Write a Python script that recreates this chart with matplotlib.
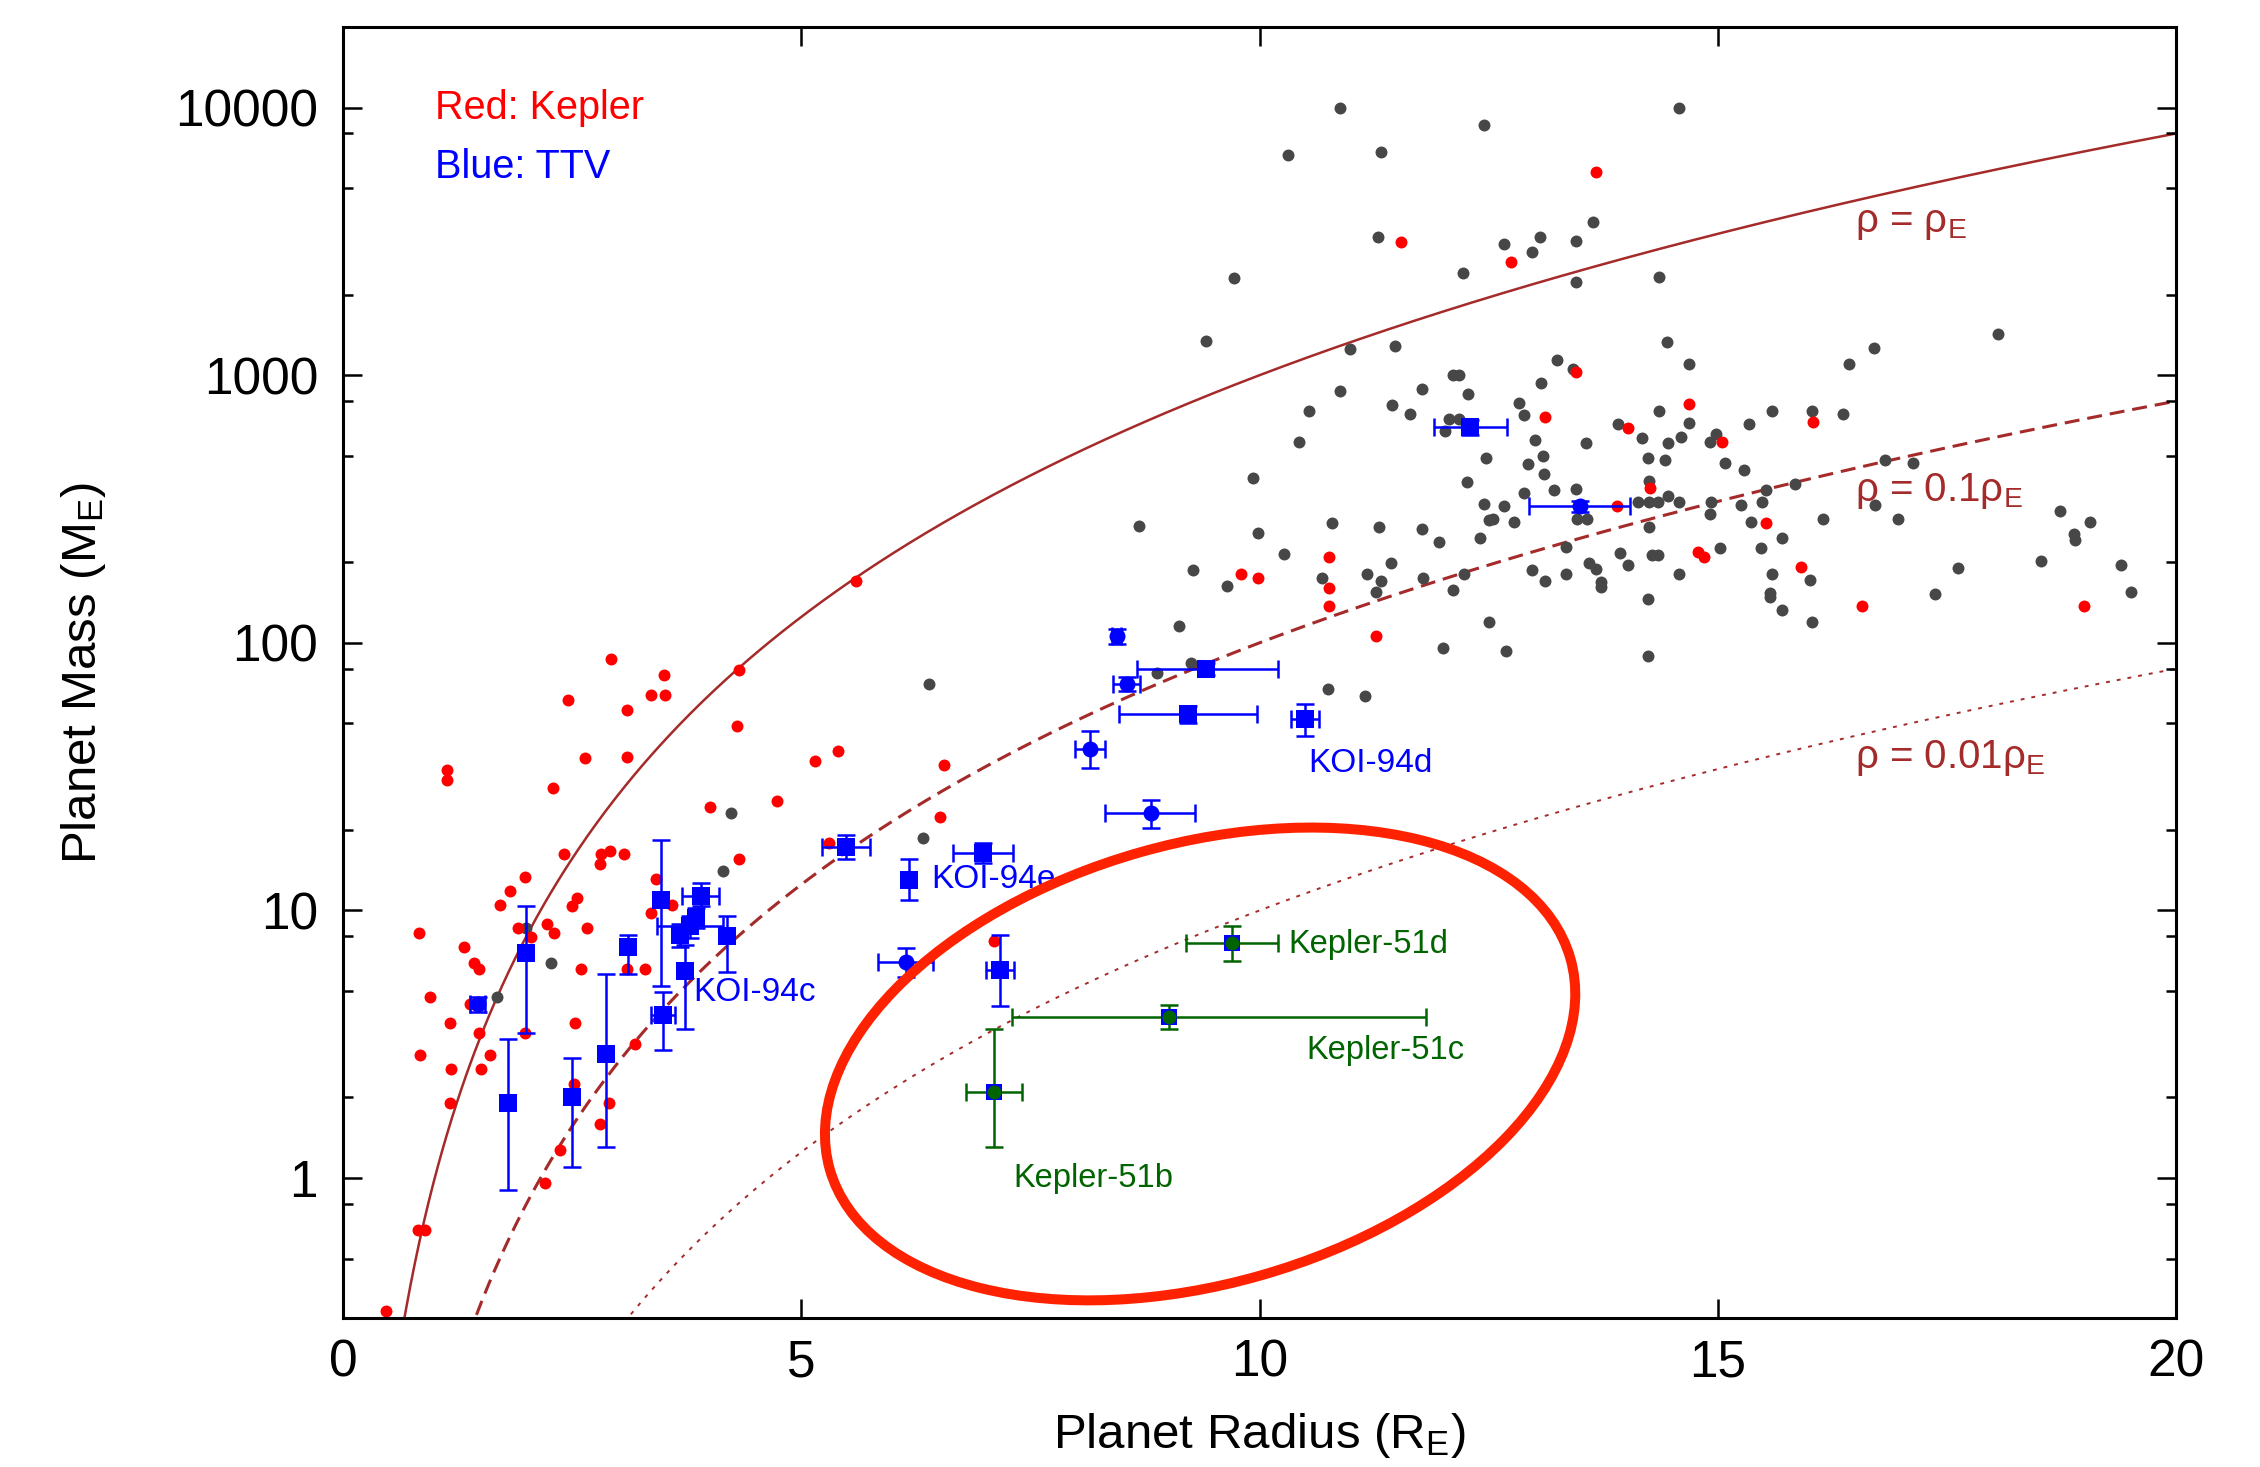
import numpy as np
import matplotlib
matplotlib.use("Agg")
import matplotlib.pyplot as plt
from matplotlib.patches import Ellipse
from matplotlib.transforms import Affine2D
from matplotlib.ticker import FixedLocator, NullFormatter

plt.rcParams['font.family'] = ['Liberation Sans', 'DejaVu Sans']
plt.rcParams['mathtext.fontset'] = 'custom'
plt.rcParams['mathtext.rm'] = 'Liberation Sans'
plt.rcParams['mathtext.it'] = 'Liberation Sans:italic'

# Kepler planets (red)
kepler_r = [2.92, 3.50, 3.36, 3.51, 4.32, 2.45, 3.10, 4.30, 2.64, 3.10, 1.13, 1.13, 2.29,
            5.15, 5.40, 6.56, 4.73, 4.00, 6.51, 2.41, 2.81, 2.91, 2.80, 3.07, 4.32, 1.99,
            1.82, 1.71, 2.55, 2.50, 3.41, 3.59, 3.36, 0.83, 1.91, 2.05, 2.22, 2.30, 2.66,
            1.32, 1.43, 1.48, 2.60, 3.10, 3.29, 0.95, 1.39, 1.17, 2.53, 1.48, 1.99, 3.19,
            0.84, 1.60, 1.18, 1.50, 7.10, 5.30, 1.17, 2.52, 2.90, 2.80, 2.37, 2.20, 0.82,
            0.89, 0.47, 5.60, 9.80, 9.98, 10.76, 10.76, 10.76, 11.27, 11.54, 12.74, 13.67,
            13.45, 13.11, 14.69, 14.02, 15.05, 16.04, 14.26, 13.90, 15.52, 14.78, 14.85,
            15.91, 16.57, 19.00]
kepler_m = [87, 76, 64, 64, 79, 61, 56, 49, 37, 37.5, 33.6, 30.8, 28.7,
            36.3, 39.4, 34.9, 25.7, 24.4, 22.3, 16.2, 16.3, 16.6, 14.9, 16.2, 15.6, 13.3,
            11.8, 10.5, 11.1, 10.4, 13.1, 10.5, 9.8, 8.26, 8.6, 7.96, 8.9, 8.26, 8.6,
            7.3, 6.38, 6.03, 6.03, 6.05, 6.05, 4.76, 4.46, 3.81, 3.81, 3.49, 3.49, 3.18,
            2.87, 2.87, 2.55, 2.55, 7.67, 17.9, 1.91, 2.24, 1.91, 1.59, 1.27, 0.955, 0.638,
            0.638, 0.318, 170, 181, 174, 209, 160, 137, 106, 3140, 2650, 5720,
            1028, 698, 777, 635, 563, 668, 380, 324, 280, 218, 210,
            192, 137, 137]

# other known planets (grey)
other_r = [6.39, 4.23, 4.15, 6.33, 2.00, 2.27, 1.68,
           8.68, 9.98, 10.79, 11.30, 11.77, 11.96, 12.41, 12.45, 12.67, 12.55, 12.50,
           12.78, 10.27, 9.27, 9.64, 10.68, 11.17, 11.32, 11.43, 11.27, 11.78, 12.11, 12.23,
           13.34, 12.97, 13.11, 13.34, 13.59, 13.67, 13.73, 13.73, 9.12, 12.50, 12.00, 12.69,
           9.25, 8.88, 10.75, 11.15,
           10.88, 12.45, 10.31, 11.32, 11.29, 12.67, 12.97, 13.06, 13.45, 13.64, 13.45, 12.22,
           9.72, 9.42, 10.99, 11.48, 13.24, 13.42, 13.07, 12.11, 12.18, 10.88, 11.77, 12.27,
           12.83, 10.54, 11.44, 11.64, 12.89, 12.07, 12.18, 12.02, 10.43, 13.00, 13.56, 12.47,
           13.09, 12.93, 13.10, 9.93, 12.26, 13.21, 13.45, 12.89,
           14.58, 14.36, 14.45, 14.69, 18.06, 16.70, 16.43, 14.36, 14.69, 13.91, 15.59, 16.03,
           16.37, 15.34, 14.17, 14.46, 14.60, 14.98, 14.91, 14.24, 14.42, 15.08, 15.28, 16.82,
           17.13, 15.84, 15.53, 14.25,
           13.46, 13.57, 14.25, 14.13, 14.25, 14.35, 14.46, 14.58, 14.91, 14.93, 15.25, 15.36,
           15.48, 15.70, 16.15, 16.97, 16.71, 18.73, 19.06, 18.89, 18.90, 18.53, 19.40, 19.51,
           17.62, 17.37, 15.59, 16.01, 15.57, 15.57, 15.70, 16.03, 15.02, 15.47, 14.58, 14.28,
           14.35, 13.93, 14.02, 14.24, 14.24]
other_m = [70, 23.2, 14.0, 18.7, 8.6, 6.38, 4.75,
           274, 257, 280, 271, 267, 238, 247, 329, 324, 291, 287,
           282, 214, 187, 163, 175, 180, 170, 198, 155, 174, 158, 180,
           228, 187, 170, 180, 199, 188, 169, 161, 116, 120, 96, 93,
           84, 77, 67, 63,
           10000, 8590, 6640, 6850, 3290, 3080, 2880, 3290, 3170, 3740, 2220, 2400,
           2300, 1343, 1250, 1285, 1143, 1059, 938, 1005, 1005, 871, 886, 853,
           790, 733, 772, 713, 710, 684, 684, 617, 563, 571, 560, 492,
           498, 465, 429, 414, 399, 371, 375, 363,
           10000, 2320, 1331, 1105, 1422, 1268, 1105, 733, 665, 656, 734, 736,
           713, 659, 582, 557, 588, 604, 563, 492, 484, 470, 441, 484,
           471, 391, 371, 402,
           289, 289, 271, 336, 336, 336, 353, 336, 304, 336, 327, 283,
           336, 247, 289, 289, 327, 312, 283, 256, 242, 202, 195, 155,
           191, 152, 181, 172, 153, 148, 133, 120, 226, 226, 181, 212,
           212, 217, 196, 146, 89]

# TTV planets (blue): radius, mass, asymmetric errors, marker
ttv_r = [5.49, 6.98, 6.18, 7.17, 3.47, 3.49, 3.90, 3.85, 3.78, 3.68, 4.19, 3.73, 3.11,
         2.00, 1.80, 2.50, 2.87, 9.42, 9.22, 10.50, 12.30,
         6.14, 1.47, 8.44, 8.55, 8.15, 8.81, 13.50]
ttv_m = [17.3, 16.4, 13.0, 6.0, 10.9, 4.08, 11.3, 9.37, 8.72, 8.07, 8.0, 5.92, 7.3,
         6.95, 1.90, 2.01, 2.90, 80.1, 54.1, 52.1, 638,
         6.42, 4.46, 106, 70.2, 40.2, 23.1, 324]
ttv_r_lo = [0.26, 0.33, 0, 0.15, 0, 0.13, 0.20, 0.08, 0.36, 0, 0, 0, 0,
            0, 0, 0, 0, 0.76, 0.75, 0.16, 0.40,
            0.30, 0.08, 0.05, 0.15, 0.16, 0.50, 0.56]
ttv_r_hi = [0.26, 0.33, 0, 0.15, 0, 0.13, 0.20, 0.08, 0.37, 0, 0, 0, 0,
            0, 0, 0, 0, 0.78, 0.75, 0.15, 0.40,
            0.30, 0.08, 0.05, 0.14, 0.16, 0.49, 0.54]
ttv_m_lo = [1.8, 1.3, 2.1, 1.6, 5.7, 1.08, 0.9, 0.8, 0.8, 0.8, 2.1, 2.3, 1.5,
            3.46, 1.0, 0.91, 1.59, 4, 4, 7.2, 40,
            0.8, 0.3, 7, 4, 6.1, 2.7, 15]
ttv_m_hi = [1.9, 1.5, 2.5, 2.1, 7.4, 0.87, 1.4, 0.8, 0.8, 0.8, 1.5, 1.5, 0.8,
            3.45, 1.4, 0.80, 2.9, 4, 4, 6.8, 40,
            0.8, 0.3, 7, 4, 6.5, 2.7, 15]
ttv_marker = ['s'] * 21 + ['o'] * 7

# Kepler-51 planets (green)
k51_names = ['Kepler-51b', 'Kepler-51c', 'Kepler-51d']
k51_r = [7.10, 9.01, 9.70]
k51_m = [2.10, 4.0, 7.58]
k51_r_lo = [0.30, 1.71, 0.50]
k51_r_hi = [0.31, 2.80, 0.50]
k51_m_lo = [0.79, 0.41, 1.13]
k51_m_hi = [1.49, 0.42, 1.14]
k51_label_xy = [(7.31, 1.0), (10.51, 3.0), (10.31, 7.45)]

koi_labels = ['KOI-94d', 'KOI-94e', 'KOI-94c']
koi_label_xy = [(10.53, 35.3), (6.42, 13.1), (3.82, 4.95)]

density_factors = [1.0, 0.1, 0.01]
density_labels = [r'ρ = ρ$_\mathrm{E}$', r'ρ = 0.1ρ$_\mathrm{E}$', r'ρ = 0.01ρ$_\mathrm{E}$']
density_label_m = [3700, 370, 37]

brown = '#a52a2a'
blue = '#0000ff'
green = '#006400'

fig = plt.figure(figsize=(22.6, 14.67), dpi=100)
ax = fig.add_axes([0.1518, 0.1016, 0.8111, 0.8800])

# constant density curves M = f * R^3
R = np.linspace(0.01, 20, 800)
ax.plot(R, density_factors[0] * R**3, color=brown, lw=1.8, zorder=1)
ax.plot(R, density_factors[1] * R**3, color=brown, lw=2.2, dashes=(4.9, 2.6), zorder=1)
ax.plot(R, density_factors[2] * R**3, color=brown, lw=1.4, dashes=(2.0, 3.6), zorder=1)
for lab, m in zip(density_labels, density_label_m):
    ax.text(16.5, m, lab, color=brown, fontsize=29, ha='left', va='center')

ax.plot(other_r, other_m, 'o', color='#474747', ms=8.6, mew=0, zorder=2)
ax.plot(kepler_r, kepler_m, 'o', color='#ff0000', ms=8.6, mew=0, zorder=2)

for i in range(len(ttv_r)):
    xerr = None
    if ttv_r_lo[i] > 0:
        xerr = [[ttv_r_lo[i]], [ttv_r_hi[i]]]
    yerr = [[ttv_m_lo[i]], [ttv_m_hi[i]]]
    ax.errorbar([ttv_r[i]], [ttv_m[i]], xerr=xerr, yerr=yerr, fmt='none',
                ecolor=blue, elinewidth=1.8, capsize=6.5, capthick=1.8, zorder=3)
    ms = 13 if ttv_marker[i] == 's' else 11.5
    ax.plot(ttv_r[i], ttv_m[i], ttv_marker[i], color=blue, ms=ms, mew=0, zorder=3)

for i in range(len(k51_r)):
    ax.errorbar([k51_r[i]], [k51_m[i]], xerr=[[k51_r_lo[i]], [k51_r_hi[i]]],
                yerr=[[k51_m_lo[i]], [k51_m_hi[i]]], fmt='none', ecolor=green,
                elinewidth=1.8, capsize=6.5, capthick=1.8, zorder=4)
    ax.plot(k51_r[i], k51_m[i], 's', color=blue, ms=11, mew=0, zorder=4)
    ax.plot(k51_r[i], k51_m[i], 'o', color=green, ms=10, mew=0, zorder=5)
    ax.text(k51_label_xy[i][0], k51_label_xy[i][1], k51_names[i], color=green,
            fontsize=23.5, ha='left', va='center', zorder=6)

for lab, (x, y) in zip(koi_labels, koi_label_xy):
    ax.text(x, y, lab, color=blue, fontsize=24, ha='left', va='center', zorder=6)

ax.text(1.0, 10000, 'Red: Kepler', color='#ff0000', fontsize=28.5, ha='left', va='center')
ax.text(1.0, 6000, 'Blue: TTV', color=blue, fontsize=28.5, ha='left', va='center')

# highlight ellipse, drawn in axes pixel units
ell = Ellipse((857, 254), 770, 440, angle=15.9, fill=False, ec='#ff2200', lw=7.2,
              transform=Affine2D().scale(1 / 1833, 1 / 1291) + ax.transAxes, zorder=7)
ax.add_patch(ell)

ax.set_xlim(0, 20)
ax.set_yscale('log')
ax.set_ylim(0.3, 20000)
ax.set_xticks([0, 5, 10, 15, 20])
ax.set_yticks([1, 10, 100, 1000, 10000])
ax.set_yticklabels(['1', '10', '100', '1000', '10000'])
minor = [k * 10.0**n for n in range(-1, 5) for k in (2, 5, 8)]
ax.yaxis.set_minor_locator(FixedLocator(minor))
ax.yaxis.set_minor_formatter(NullFormatter())
ax.tick_params(which='both', direction='in', top=True, right=True, width=1.8, labelsize=37)
ax.tick_params(which='major', length=13.5, pad=15)
ax.tick_params(axis='y', which='major', pad=18)
ax.tick_params(which='minor', length=7)
for s in ax.spines.values():
    s.set_linewidth(2.2)

ax.set_xlabel(r'Planet Radius (R$_\mathrm{E}$)', fontsize=35.5)
ax.set_ylabel(r'Planet Mass (M$_\mathrm{E}$)', fontsize=35.5)
ax.xaxis.set_label_coords(0.5, -0.072)
ax.yaxis.set_label_coords(-0.128, 0.5)

fig.savefig('out.png', dpi=100)
